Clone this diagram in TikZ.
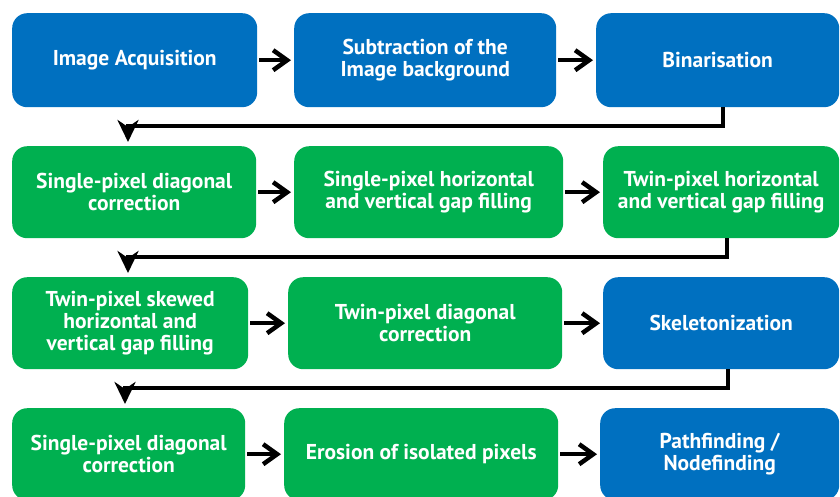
\documentclass[tikz,border=0pt]{standalone}
\usepackage{fontspec}
\setmainfont{PT Sans}
\usetikzlibrary{arrows.meta,positioning}
\definecolor{boxblue}{HTML}{0070C0}
\definecolor{boxgreen}{HTML}{00B050}
\tikzset{
  stepbox/.style={rounded corners=15pt, inner sep=0pt, text=white, align=center,
    font=\fontsize{21.5}{22}\selectfont\bfseries, anchor=north west},
  bluebox/.style={stepbox, fill=boxblue},
  greenbox/.style={stepbox, fill=boxgreen},
  flow/.style={line width=4.5pt, -{Straight Barb[length=14pt,width=20pt,line width=4.5pt]}, shorten <=2pt, shorten >=3pt},
  wrap/.style={line width=4.5pt, -{Stealth[length=22pt,width=21pt,inset=7pt]}, shorten >=4pt},
}
\newcommand{\bx}[7]{% style, name, x1, y1, x2, y2, text
  \node[#1, minimum width={#5-#3}, minimum height={#6-#4}] (#2) at (#3,#4) {#7};}
\begin{document}
\begin{tikzpicture}[x=1pt,y=-1pt]
\useasboundingbox (0,0) rectangle (840,496);
% row 1
\bx{bluebox}{a1}{12}{13}{257}{107}{Image Acquisition}
\bx{bluebox}{a2}{294}{13}{556}{107}{Subtraction of the\\Image background}
\bx{bluebox}{a3}{596}{13}{839}{107}{Binarisation}
% row 2
\bx{greenbox}{b1}{12}{146}{256}{238}{Single-pixel diagonal\\correction}
\bx{greenbox}{b2}{294}{146}{563}{238}{Single-pixel horizontal\\and vertical gap filling}
\bx{greenbox}{b3}{603}{146}{839}{238}{Twin-pixel horizontal\\and vertical gap filling}
% row 3
\bx{greenbox}{c1}{12}{277}{248}{369}{Twin-pixel skewed\\horizontal and\\vertical gap filling}
\bx{greenbox}{c2}{288}{277}{562}{369}{Twin-pixel diagonal\\correction}
\bx{bluebox}{c3}{603}{277}{839}{369}{Skeletonization}
% row 4
\bx{greenbox}{d1}{12}{408}{245}{500}{Single-pixel diagonal\\correction}
\bx{greenbox}{d2}{284}{408}{558}{500}{Erosion of isolated pixels}
\bx{bluebox}{d3}{600}{408}{839}{500}{Pathfinding /\\Nodefinding}
% horizontal arrows
\draw[flow] (a1.east) -- (a2.west);
\draw[flow] (a2.east) -- (a3.west);
\draw[flow] (b1.east) -- (b2.west);
\draw[flow] (b2.east) -- (b3.west);
\draw[flow] (c1.east) -- (c2.west);
\draw[flow] (c2.east) -- (c3.west);
\draw[flow] (d1.east) -- (d2.west);
\draw[flow] (d2.east) -- (d3.west);
% wrap connectors
\coordinate (k1) at (723,126);
\coordinate (m1) at (128,126);
\coordinate (k2) at (727,257);
\coordinate (m2) at (128,257);
\coordinate (k3) at (728,388);
\coordinate (m3) at (125,388);
\draw[wrap] (a3.south -| k1) -- (k1) -- (m1) -- (b1.north -| m1);
\draw[wrap] (b3.south -| k2) -- (k2) -- (m2) -- (c1.north -| m2);
\draw[wrap] (c3.south -| k3) -- (k3) -- (m3) -- (d1.north -| m3);
\end{tikzpicture}
\end{document}
